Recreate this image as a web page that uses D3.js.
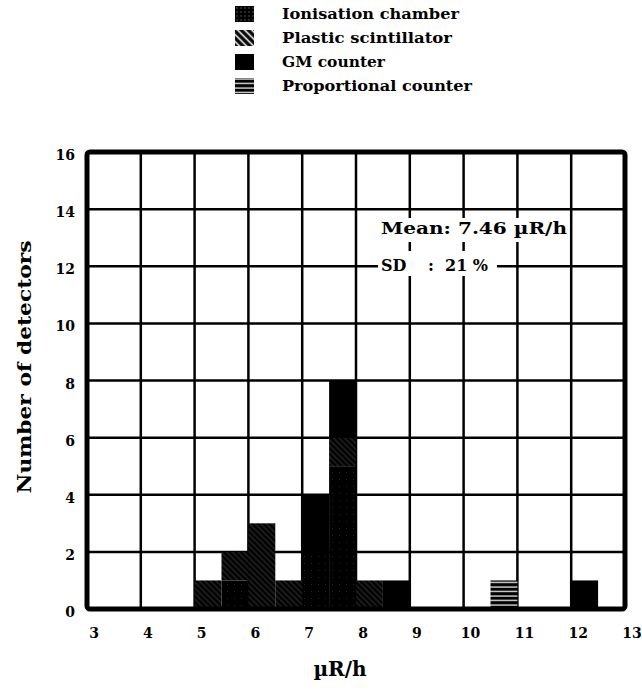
<!DOCTYPE html>
<html>
<head>
<meta charset="utf-8">
<script src="https://cdn.jsdelivr.net/npm/d3@7"></script>
<style>
  body { margin: 0; background: #fff; }
  text { font-family: "DejaVu Serif", serif; font-weight: bold; fill: #000; }
</style>
</head>
<body>
<svg width="642" height="693"></svg>
<script>
// histogram bins (0.5 µR/h wide), counts per detector type
var binStart = [5, 5.5, 6, 6.5, 7, 7.5, 8, 8.5, 10.5, 12];
var ionisation = [0, 1, 0, 0, 2, 5, 0, 0, 0, 0];
var plastic = [1, 1, 3, 1, 0, 1, 1, 0, 0, 0];
var gm = [0, 0, 0, 0, 2, 2, 0, 1, 0, 1];
var proportional = [0, 0, 0, 0, 0, 0, 0, 0, 1, 0];

var xTicks = [3, 4, 5, 6, 7, 8, 9, 10, 11, 12, 13];
var yTicks = [0, 2, 4, 6, 8, 10, 12, 14, 16];
var legendNames = ["Ionisation chamber", "Plastic scintillator", "GM counter", "Proportional counter"];
var keys = ["ion", "pla", "gm", "prop"];

var svg = d3.select("svg");

var x = d3.scaleLinear().domain([3, 13]).range([87, 625]);
var y = d3.scaleLinear().domain([0, 16]).range([609, 152]);

// patterns
var defs = svg.append("defs");
var pIon = defs.append("pattern").attr("id", "p-ion").attr("patternUnits", "userSpaceOnUse")
    .attr("width", 7).attr("height", 7);
pIon.append("rect").attr("width", 7).attr("height", 7).attr("fill", "#000");
pIon.append("rect").attr("x", 3).attr("y", 3).attr("width", 1).attr("height", 1).attr("fill", "#fff").attr("opacity", 0.15);

var pIonBig = defs.append("pattern").attr("id", "p-ion-big").attr("patternUnits", "userSpaceOnUse")
    .attr("width", 4).attr("height", 4);
pIonBig.append("rect").attr("width", 4).attr("height", 4).attr("fill", "#000");
pIonBig.append("rect").attr("x", 1.5).attr("y", 1.5).attr("width", 1).attr("height", 1).attr("fill", "#fff").attr("opacity", 0.6);

var pPla = defs.append("pattern").attr("id", "p-pla").attr("patternUnits", "userSpaceOnUse")
    .attr("width", 4).attr("height", 4).attr("patternTransform", "rotate(45)");
pPla.append("rect").attr("width", 4).attr("height", 4).attr("fill", "#000");
pPla.append("line").attr("x1", 0).attr("x2", 4).attr("y1", 2).attr("y2", 2)
    .attr("stroke", "#fff").attr("stroke-width", 0.7).attr("opacity", 0.3);

var pPlaBig = defs.append("pattern").attr("id", "p-pla-big").attr("patternUnits", "userSpaceOnUse")
    .attr("width", 5).attr("height", 5).attr("patternTransform", "rotate(45)");
pPlaBig.append("rect").attr("width", 5).attr("height", 5).attr("fill", "#000");
pPlaBig.append("line").attr("x1", 0).attr("x2", 5).attr("y1", 2.5).attr("y2", 2.5)
    .attr("stroke", "#fff").attr("stroke-width", 1.6);

var pProp = defs.append("pattern").attr("id", "p-prop").attr("patternUnits", "userSpaceOnUse")
    .attr("width", 6).attr("height", 4.5);
pProp.append("rect").attr("width", 6).attr("height", 4.5).attr("fill", "#000");
pProp.append("line").attr("x1", 0).attr("x2", 6).attr("y1", 2).attr("y2", 2)
    .attr("stroke", "#fff").attr("stroke-width", 1.2);

var fills = { ion: "url(#p-ion)", pla: "url(#p-pla)", gm: "#000", prop: "url(#p-prop)" };
var legendFills = { ion: "url(#p-ion-big)", pla: "url(#p-pla-big)", gm: "#000", prop: "url(#p-prop)" };

// grid
svg.append("g").selectAll("line").data(xTicks.slice(1, -1)).enter().append("line")
    .attr("x1", function (d) { return x(d); }).attr("x2", function (d) { return x(d); })
    .attr("y1", y(16)).attr("y2", y(0))
    .attr("stroke", "#000").attr("stroke-width", 2.5);
svg.append("g").selectAll("line").data(yTicks.slice(1, -1)).enter().append("line")
    .attr("y1", function (d) { return y(d); }).attr("y2", function (d) { return y(d); })
    .attr("x1", x(3)).attr("x2", x(13))
    .attr("stroke", "#000").attr("stroke-width", 2.5);

// stacked bars
var table = binStart.map(function (b, i) {
    return { bin: b, ion: ionisation[i], pla: plastic[i], gm: gm[i], prop: proportional[i] };
});
var series = d3.stack().keys(keys)(table);

svg.append("g").selectAll("g").data(series).enter().append("g")
    .attr("fill", function (s) { return fills[s.key]; })
    .selectAll("rect")
    .data(function (s) { return s.filter(function (d) { return d[1] > d[0]; }); })
    .enter().append("rect")
    .attr("x", function (d) { return x(d.data.bin); })
    .attr("width", function (d) { return x(d.data.bin + 0.5) - x(d.data.bin); })
    .attr("y", function (d) { return y(d[1]); })
    .attr("height", function (d) { return y(d[0]) - y(d[1]); });

// frame
svg.append("rect")
    .attr("x", x(3)).attr("y", y(16))
    .attr("width", x(13) - x(3)).attr("height", y(0) - y(16))
    .attr("fill", "none").attr("stroke", "#000").attr("stroke-width", 5)
    .attr("rx", 3);

// tick labels
svg.append("g").selectAll("text").data(xTicks).enter().append("text")
    .attr("x", function (d) { return x(d) + 7; })
    .attr("y", 638)
    .attr("text-anchor", "middle")
    .attr("font-size", 14)
    .text(function (d) { return d; });
svg.append("g").selectAll("text").data(yTicks).enter().append("text")
    .attr("x", 75)
    .attr("y", function (d) { return y(d) + 8; })
    .attr("text-anchor", "end")
    .attr("font-size", 14)
    .text(function (d) { return d; });

// axis titles
svg.append("text")
    .attr("transform", "translate(31,367) rotate(-90)")
    .attr("text-anchor", "middle")
    .attr("font-size", 19)
    .attr("textLength", 253).attr("lengthAdjust", "spacingAndGlyphs")
    .text("Number of detectors");
svg.append("text")
    .attr("x", 340).attr("y", 676)
    .attr("text-anchor", "middle")
    .attr("font-size", 20)
    .text("µR/h");

// annotation (white boxes knock out the grid behind the text)
svg.append("rect").attr("x", 378).attr("y", 218).attr("width", 190).attr("height", 24).attr("fill", "#fff");
svg.append("rect").attr("x", 378).attr("y", 251).attr("width", 119).attr("height", 25).attr("fill", "#fff");
svg.append("text")
    .attr("x", 381).attr("y", 234)
    .attr("font-size", 16)
    .attr("textLength", 186).attr("lengthAdjust", "spacingAndGlyphs")
    .text("Mean: 7.46 µR/h");
var sd = svg.append("g");
[["SD", 381], [":", 428], ["21 %", 445]].forEach(function (p) {
    sd.append("text")
        .attr("x", p[1]).attr("y", 271)
        .attr("font-size", 16)
        .text(p[0]);
});

// legend
var legendY = [14, 38, 62, 86];
var legendW = [177, 170, 103, 190];
var lg = svg.append("g").selectAll("g").data(keys).enter().append("g")
    .attr("transform", function (d, i) { return "translate(235," + legendY[i] + ")"; });
lg.append("rect")
    .attr("x", 0).attr("y", -8).attr("width", 19).attr("height", 16)
    .attr("fill", function (d) { return legendFills[d]; });
lg.append("text")
    .attr("x", 47).attr("y", 5)
    .attr("font-size", 14)
    .attr("textLength", function (d, i) { return legendW[i]; })
    .attr("lengthAdjust", "spacingAndGlyphs")
    .text(function (d, i) { return legendNames[i]; });
</script>
</body>
</html>
